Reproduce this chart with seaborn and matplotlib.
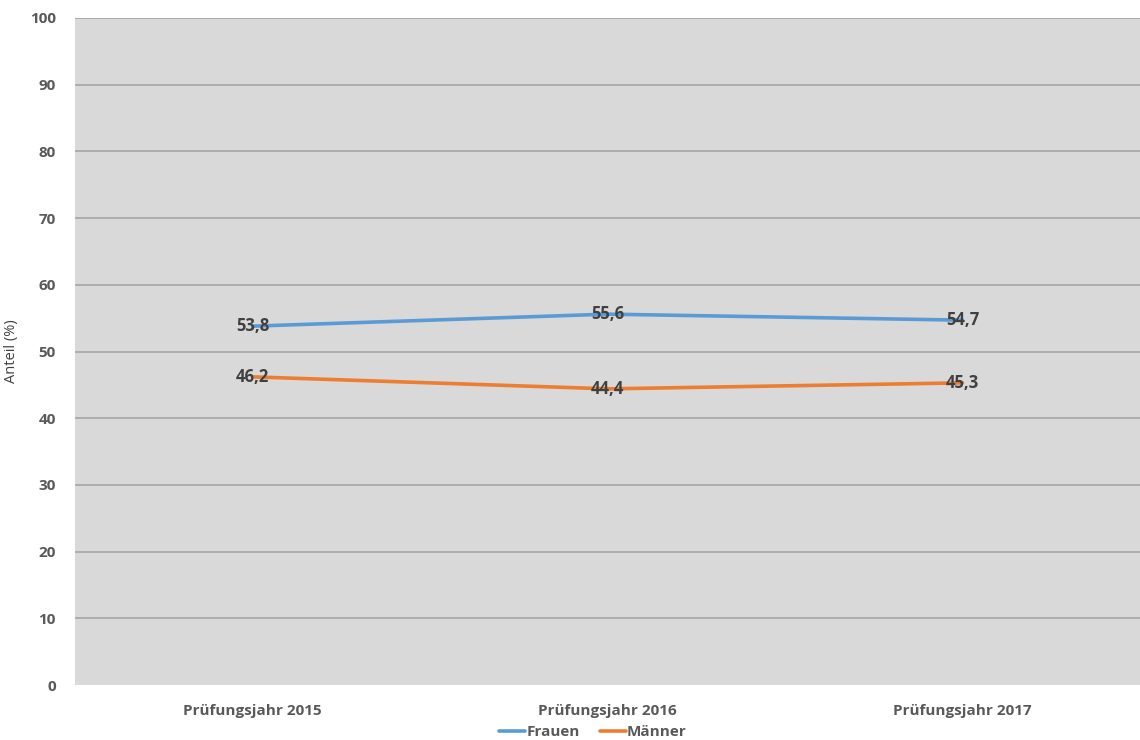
import matplotlib
matplotlib.use("Agg")
import matplotlib.pyplot as plt
import seaborn as sns
import pandas as pd

years = ["Prüfungsjahr 2015", "Prüfungsjahr 2016", "Prüfungsjahr 2017"]
frauen = [53.8, 55.6, 54.7]
maenner = [46.2, 44.4, 45.3]
series_names = ["Frauen", "Männer"]
colors = ["#5b9bd5", "#ed7d31"]
y_ticks = [0, 10, 20, 30, 40, 50, 60, 70, 80, 90, 100]

df = pd.DataFrame({
    "Jahr": years * 2,
    "Anteil": frauen + maenner,
    "Geschlecht": [series_names[0]] * 3 + [series_names[1]] * 3,
})
df["pos"] = [0, 1, 2] * 2

sns.set_theme(style="white")
plt.rcParams["font.family"] = ["Open Sans", "DejaVu Sans"]

fig = plt.figure(figsize=(11.4, 7.4), dpi=100)
ax = fig.add_axes([0.066, 0.0743, 0.934, 0.9014])
ax.set_facecolor("#d9d9d9")

sns.lineplot(data=df, x="pos", y="Anteil", hue="Geschlecht",
             palette=colors, linewidth=2.6, ax=ax, legend=False)

for vals in (frauen, maenner):
    for i, v in enumerate(vals):
        ax.text(i, v, f"{v:.1f}".replace(".", ","), ha="center", va="center",
                fontsize=12, fontweight="bold", color="#404040")

ax.set_xlim(-0.5, 2.5)
ax.set_ylim(0, 100)
ax.set_yticks(y_ticks)
ax.set_xticks([0, 1, 2])
ax.set_xticklabels(years)
ax.yaxis.grid(True, color="#a6a6a6", linewidth=1.2)
# no gridline along the baseline
ax.get_ygridlines()[0].set_visible(False)
ax.set_axisbelow(True)
for s in ax.spines.values():
    s.set_visible(False)
ax.tick_params(axis="both", length=0, labelsize=11, labelcolor="#595959")
ax.tick_params(axis="y", pad=14)
ax.tick_params(axis="x", pad=14)
for lbl in ax.get_xticklabels() + ax.get_yticklabels():
    lbl.set_fontweight("bold")
ax.set_xlabel("")
ax.set_ylabel("Anteil (%)", fontsize=10.5, color="#404040", labelpad=8)

handles = [plt.Line2D([], [], color=c, linewidth=2.6) for c in colors]
fig.legend(handles, series_names, loc="center", bbox_to_anchor=(0.52, 0.011),
           ncol=2, frameon=False, handlelength=1.7,
           handletextpad=0.1, columnspacing=1.3, labelcolor="#595959",
           prop={"weight": "bold", "size": 11})

fig.savefig("out.png", dpi=100)
